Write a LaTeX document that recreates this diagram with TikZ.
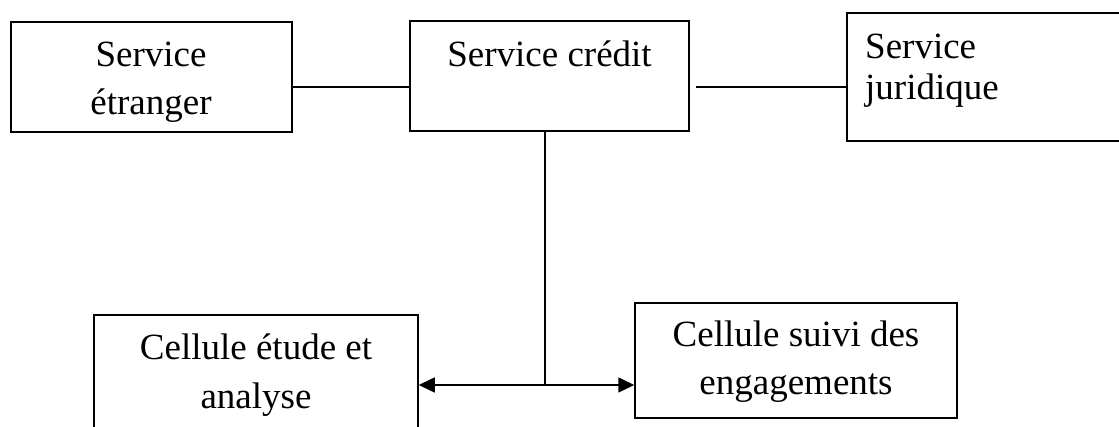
\documentclass[tikz,border=0pt]{standalone}
\usepackage{fontspec}
\setmainfont{Liberation Serif}
\usetikzlibrary{arrows.meta}
\begin{document}
\begin{tikzpicture}[x=1pt,y=-1pt,
  box/.style={draw,line width=1.5pt,rectangle,inner sep=0pt},
  lbl/.style={anchor=base,inner sep=0pt,font=\fontsize{37}{48}\selectfont},
  conn/.style={line width=1.6pt},
  tip/.style={{Triangle[length=16pt,width=15pt]}-{Triangle[length=16pt,width=15pt]}}]
\useasboundingbox (0,0) rectangle (1119,427);
\clip (0,0) rectangle (1119,427);
% boxes
\node[box,minimum width=281pt,minimum height=110pt] (b1) at (151.5,77) {};
\node[box,minimum width=279pt,minimum height=110pt] (b2) at (549.5,76) {};
\node[box,minimum width=290pt,minimum height=128pt] (b3) at (992,77) {};
\node[box,minimum width=324pt,minimum height=140pt] (b4) at (256,385) {};
\node[box,minimum width=322pt,minimum height=115pt] (b5) at (796,360.5) {};
% labels
\node[lbl] (t1a) at (151,67) {Service};
\node[lbl] (t1b) at (151,115) {étranger};
\node[lbl] (t2) at (549.5,67) {Service crédit};
\node[lbl,anchor=base west] (t3a) at (865,59) {Service};
\node[lbl,anchor=base west] (t3b) at (865,100) {juridique};
\node[lbl] (t4a) at (256,360) {Cellule étude et};
\node[lbl] (t4b) at (256,408) {analyse};
\node[lbl] (t5a) at (796,347) {Cellule suivi des};
\node[lbl] (t5b) at (796,395) {engagements};
% connectors
\coordinate (s) at (545,131);
\coordinate (j) at (545,385);
\coordinate (c2r) at (696,87);
\draw[conn] (b1.east |- 0,87) -- (b2.west |- 0,87);
\draw[conn] (c2r) -- (b3.west |- c2r);
\draw[conn] (s) -- (j);
\draw[conn,tip] (b4.east |- j) -- (b5.west |- j);
\end{tikzpicture}
\end{document}
